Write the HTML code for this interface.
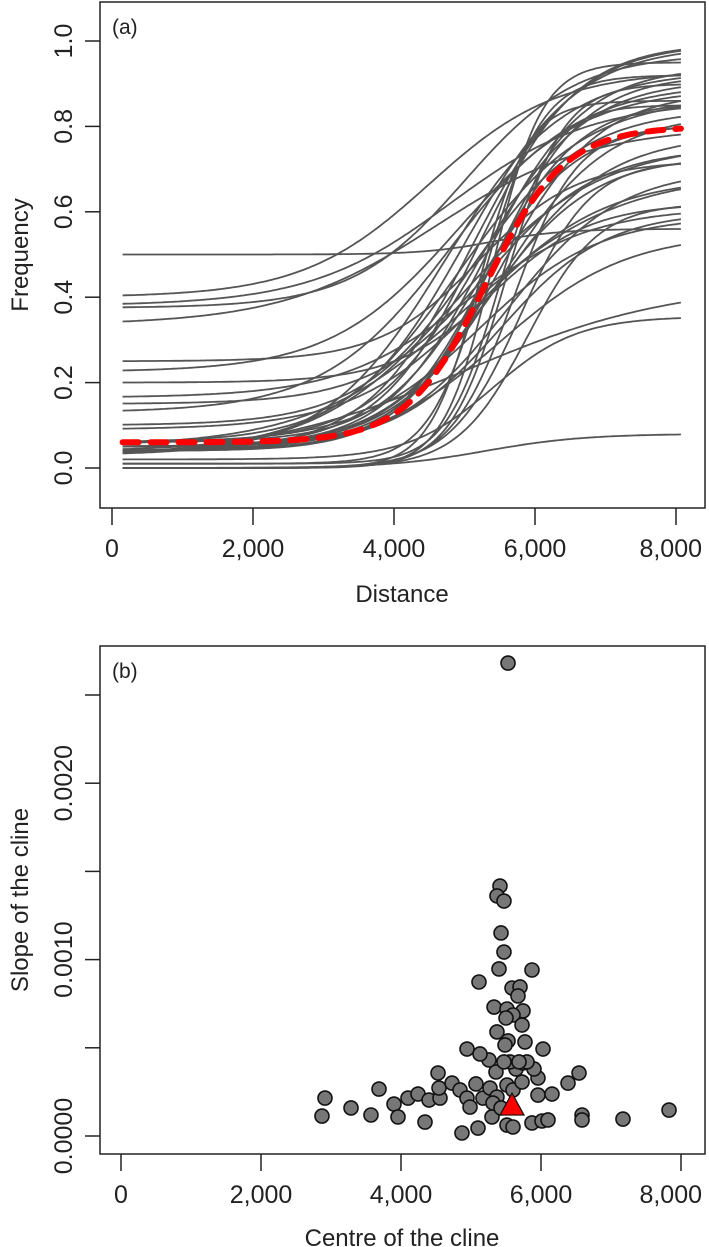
<!DOCTYPE html>
<html><head><meta charset="utf-8"><style>
html,body{margin:0;padding:0;background:#fff;}
svg{display:block;font-family:"Liberation Sans",Arial,sans-serif;}
</style></head><body>
<svg id="fig" width="709" height="1247" viewBox="0 0 709 1247"></svg>
<script>
// Panel (a) curve data: left value, right value, centre, width
const curveLeft  = [0.50,0.40,0.38,0.375,0.335,0.25,0.225,0.20,0.165,0.15,0.13,0.10,0.09,0.02,0.0,0.02,0.05,0.04,0.06,0.05,0.04,0.06,0.05,0.04,0.05,0.06,0.04,0.05,0.04,0.05,0.06,0.04,0.0,0.0,0.01,0.0,0.0,0.0,0.01,0.0,0.03,0.04,0.03,0.05];
const curveRight = [0.56,0.93,0.86,0.97,0.80,0.72,0.89,0.62,0.61,0.75,0.90,0.84,0.68,0.355,0.08,0.435,0.995,0.995,0.99,0.94,0.92,0.91,0.88,0.86,0.83,0.81,0.78,0.73,0.70,0.60,0.59,0.55,0.95,0.90,0.85,0.80,0.72,0.62,0.92,0.86,0.93,0.87,0.76,0.69];
const curveCentre= [5400,4500,4800,5000,4600,5200,4900,5400,5000,5300,4800,5100,5200,5400,5300,5000,5200,5100,5000,5300,5400,5200,5500,5300,5500,5200,5400,5300,5600,5500,5200,5500,5400,5600,5500,5700,5800,5900,5300,5200,4700,4900,4900,5000];
const curveWidth = [500,900,1000,800,1100,700,900,700,900,800,900,800,900,600,700,1500,700,750,800,700,650,750,700,650,750,700,800,750,800,750,850,900,350,400,380,450,500,500,400,350,850,900,1000,1100];
const meanCurve = [0.06,0.80,5300,560];
const xTicksA = [0,2000,4000,6000,8000];
const xTickLabelsA = ["0","2,000","4,000","6,000","8,000"];
const yTicksA = [0,0.2,0.4,0.6,0.8,1.0];
const yTickLabelsA = ["0.0","0.2","0.4","0.6","0.8","1.0"];
// Panel (b) data: cline centre and slope (x1e-4)
const centres = [2914,2871,3286,3686,3571,3900,3957,4100,4243,4400,4343,4557,4543,4529,4729,4843,4943,4986,5071,5171,5100,4871,5300,5271,5371,5314,5429,5514,5600,5357,5514,5600,5871,6014,6100,6586,6586,7171,7829,5957,6157,6386,6543,5729,5957,5900,5643,5743,5557,5800,5686,5471,5257,5129,4943,5371,5529,5486,5771,6029,5329,5514,5743,5600,5500,5729,5414,5371,5471,5429,5471,5400,5871,5114,5586,5700,5671,5529];
const slopesE4 = [2.15,1.13,1.59,2.66,1.19,1.81,1.08,2.15,2.38,2.04,0.79,2.15,2.72,3.57,3.00,2.61,2.15,1.64,2.95,2.15,0.45,0.17,1.08,2.72,2.21,1.87,1.59,2.89,2.61,3.63,0.62,0.51,0.74,0.85,0.91,1.19,0.91,0.96,1.47,2.32,2.38,3.00,3.57,3.06,3.29,3.80,3.80,4.14,4.20,4.20,4.20,4.20,4.31,4.65,4.93,5.90,5.39,5.16,5.33,4.93,7.31,7.20,7.09,6.86,6.69,6.29,14.17,13.61,13.32,11.51,10.43,9.47,9.41,8.73,8.39,8.45,7.94,26.81];
const meanPoint = [5586,1.64];
const xTicksB = [0,2000,4000,6000,8000];
const xTickLabelsB = ["0","2,000","4,000","6,000","8,000"];
const yTicksB = [0,5,10,15,20,25];
const yTickLabelsB = ["0.0000","","0.0010","","0.0020",""];

const NS="http://www.w3.org/2000/svg";
const svg=document.getElementById('fig');
function mk(tag,attrs,parent){const e=document.createElementNS(NS,tag);for(const k in attrs)e.setAttribute(k,attrs[k]);(parent||svg).appendChild(e);return e;}

const xa=d=>112+d*0.0705, ya=v=>468-427*v;
const xb=d=>121+d*0.07, yb=v=>1136-v*17.64;

function logistic(p,x){return p[0]+(p[1]-p[0])/(1+Math.exp(-(x-p[2])/p[3]));}
function curvePath(p){let s='';for(let x=150;x<=8100;x+=40){s+=(s?'L':'M')+xa(x).toFixed(1)+','+ya(logistic(p,x)).toFixed(1);}return s;}

// Panel A
const gA=mk('g',{});


for(let i=0;i<curveLeft.length;i++){
  const p=mk('path',{d:curvePath([curveLeft[i],curveRight[i],curveCentre[i],curveWidth[i]]),fill:'none',stroke:'#555',"stroke-width":1.8},gA);
  
  
}
const mc=mk('path',{d:curvePath(meanCurve),fill:'none',stroke:'#f00',"stroke-width":6,"stroke-dasharray":"16,12","stroke-linecap":"round"},gA);


const boxA=mk('rect',{x:100,y:2,width:605,height:506,fill:'none',stroke:'#222',"stroke-width":1.5},gA);


xTicksA.forEach((t,i)=>{
  mk('line',{x1:xa(t),x2:xa(t),y1:508,y2:525,stroke:'#222',"stroke-width":1.5},gA);
  const last=i===xTicksA.length-1;
  const tx=mk('text',{x:last?702:xa(t),y:557,"font-size":25,"text-anchor":last?"end":"middle",fill:'#222'},gA);
  tx.textContent=xTickLabelsA[i];
  
  
});
yTicksA.forEach((t,i)=>{
  mk('line',{x1:85,x2:100,y1:ya(t),y2:ya(t),stroke:'#222',"stroke-width":1.5},gA);
  const tx=mk('text',{x:0,y:0,"font-size":25,"text-anchor":"middle",fill:'#222',transform:`translate(72,${ya(t)}) rotate(-90)`},gA);
  tx.textContent=yTickLabelsA[i];
  
  
});
let t=mk('text',{x:402,y:602,"font-size":24,"text-anchor":"middle",fill:'#222'},gA);t.textContent='Distance';


t=mk('text',{x:0,y:0,"font-size":24,"text-anchor":"middle",fill:'#222',transform:'translate(28,255) rotate(-90)'},gA);t.textContent='Frequency';


t=mk('text',{x:112,y:34,"font-size":21,fill:'#222'},gA);t.textContent='(a)';



// Panel B
const gB=mk('g',{});


for(let i=0;i<centres.length;i++){
  const c=mk('circle',{cx:xb(centres[i]),cy:yb(slopesE4[i]),r:7,fill:'#777',stroke:'#111',"stroke-width":1.6},gB);
  
  
}
const mx=xb(meanPoint[0]), my=yb(meanPoint[1]);
const tri=mk('polygon',{points:`${mx},${my-14} ${mx-12},${my+8} ${mx+12},${my+8}`,fill:'#f00',stroke:'#111',"stroke-width":1.2},gB);


const boxB=mk('rect',{x:100,y:646,width:605,height:508,fill:'none',stroke:'#222',"stroke-width":1.5},gB);


xTicksB.forEach((v,i)=>{
  mk('line',{x1:xb(v),x2:xb(v),y1:1154,y2:1171,stroke:'#222',"stroke-width":1.5},gB);
  const last=i===xTicksB.length-1;
  const tx=mk('text',{x:last?702:xb(v),y:1203,"font-size":25,"text-anchor":last?"end":"middle",fill:'#222'},gB);
  tx.textContent=xTickLabelsB[i];
  
  
});
yTicksB.forEach((v,i)=>{
  mk('line',{x1:85,x2:100,y1:yb(v),y2:yb(v),stroke:'#222',"stroke-width":1.5},gB);
  if(yTickLabelsB[i]){
    const tx=mk('text',{x:0,y:0,"font-size":25,"text-anchor":"middle",fill:'#222',transform:`translate(72,${yb(v)}) rotate(-90)`},gB);
    tx.textContent=yTickLabelsB[i];
    
    
  }
});
t=mk('text',{x:402,y:1246,"font-size":24,"text-anchor":"middle",fill:'#222'},gB);t.textContent='Centre of the cline';


t=mk('text',{x:0,y:0,"font-size":24,"text-anchor":"middle",fill:'#222',transform:'translate(28,900) rotate(-90)'},gB);t.textContent='Slope of the cline';


t=mk('text',{x:112,y:678,"font-size":21,fill:'#222'},gB);t.textContent='(b)';


</script>
</body></html>
